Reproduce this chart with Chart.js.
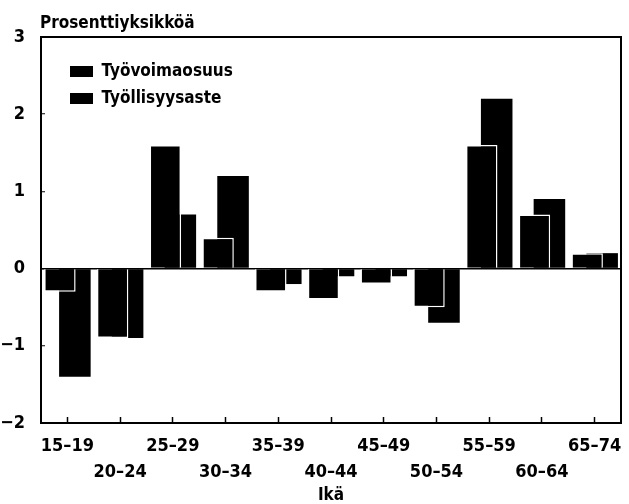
<!DOCTYPE html>
<html lang="fi">
<head>
<meta charset="UTF-8">
<title>Työvoimaosuus ja työllisyysaste</title>
<script src="https://cdn.jsdelivr.net/npm/chart.js"></script>
<style>
    body { margin: 0; background: #fff; }
    #wrap { width: 629px; height: 504px; }
</style>
</head>
<body>
<div id="wrap"><canvas id="chart"></canvas></div>
<script>
    const ageGroups = ['15–19', '20–24', '25–29', '30–34', '35–39', '40–44', '45–49', '50–54', '55–59', '60–64', '65–74'];
    const tyovoimaosuus = [-0.3, -0.9, 1.6, 0.4, -0.3, -0.4, -0.2, -0.5, 1.6, 0.7, 0.2];
    const tyollisyysaste = [-1.4, -0.9, 0.7, 1.2, -0.2, -0.1, -0.1, -0.7, 2.2, 0.9, 0.2];
    const yTicks = [-2, -1, 0, 1, 2, 3];

    const FONT = "'DejaVu Sans Condensed', 'Liberation Sans Narrow', sans-serif";

    // frame round the plot + unit label top left
    const framePlugin = {
        id: 'frame',
        afterLayout(chart) {
            // legend sits inside the plot area
            chart.legend.left = chart.chartArea.left + 19;
            chart.legend.top = chart.chartArea.top + 16;
        },
        afterDraw(chart) {
            const { ctx, chartArea: a } = chart;
            ctx.save();
            ctx.strokeStyle = '#000';
            ctx.lineWidth = 2;
            ctx.strokeRect(a.left, a.top, a.right - a.left, a.bottom - a.top);
            ctx.fillStyle = '#000';
            ctx.font = 'bold 17px ' + FONT;
            ctx.textBaseline = 'alphabetic';
            ctx.fillText('Prosenttiyksikköä', a.left - 1, 28);
            ctx.restore();
        }
    };

    new Chart(document.getElementById('chart'), {
        type: 'bar',
        data: {
            labels: ageGroups,
            datasets: [{
                label: 'Työvoimaosuus',
                data: tyovoimaosuus,
                backgroundColor: '#000',
                borderColor: '#fff',
                borderWidth: 1.5,
                categoryPercentage: 0.57,
                barPercentage: 2.1
            }, {
                label: 'Työllisyysaste',
                data: tyollisyysaste,
                backgroundColor: '#000',
                borderWidth: 0,
                categoryPercentage: 0.57,
                barPercentage: 2.1
            }]
        },
        options: {
            responsive: true,
            maintainAspectRatio: false,
            animation: false,
            layout: { padding: { top: 37, right: 8, left: 0, bottom: 0 } },
            plugins: {
                legend: {
                    position: 'chartArea',
                    align: 'start',
                    labels: {
                        color: '#000',
                        font: { family: FONT, size: 17, weight: 'bold' },
                        boxWidth: 23,
                        boxHeight: 11,
                        padding: 10,
                        generateLabels(chart) {
                            return Chart.defaults.plugins.legend.labels.generateLabels(chart)
                                .map(item => Object.assign(item, { lineWidth: 0, strokeStyle: '#000' }));
                        }
                    }
                },
                tooltip: { enabled: false }
            },
            scales: {
                x: {
                    afterFit(scale) {
                        scale.height = 81;
                        scale.paddingLeft = 0;
                        scale.paddingRight = 0;
                    },
                    grid: {
                        offset: false,
                        drawOnChartArea: false,
                        tickLength: -6,
                        tickColor: '#000',
                        tickWidth: 1.5
                    },
                    border: { color: '#000', width: 2 },
                    ticks: {
                        autoSkip: false,
                        maxRotation: 0,
                        minRotation: 0,
                        padding: 16,
                        color: '#000',
                        font: { family: FONT, size: 18, weight: 'bold', lineHeight: 1.45 },
                        callback(value, index) {
                            const t = ageGroups[index];
                            return index % 2 === 0 ? [t] : ['', t];
                        }
                    },
                    title: {
                        display: true,
                        text: 'Ikä',
                        color: '#000',
                        font: { family: FONT, size: 17, weight: 'bold' },
                        padding: { top: 0, bottom: -2 }
                    }
                },
                y: {
                    min: -2,
                    max: 3,
                    afterFit(scale) { scale.width = 41; },
                    afterBuildTicks(scale) {
                        scale.ticks = yTicks.map(v => ({ value: v }));
                    },
                    grid: {
                        color: c => c.tick && c.tick.value === 0 ? '#000' : 'rgba(0,0,0,0)',
                        lineWidth: 1.5,
                        tickLength: -4,
                        tickColor: '#000',
                        tickWidth: 1
                    },
                    border: { color: '#000', width: 2 },
                    ticks: {
                        padding: 20,
                        color: '#000',
                        font: { family: FONT, size: 18, weight: 'bold' },
                        callback: v => String(v).replace('-', '−')
                    }
                }
            }
        },
        plugins: [framePlugin]
    });
</script>
</body>
</html>
